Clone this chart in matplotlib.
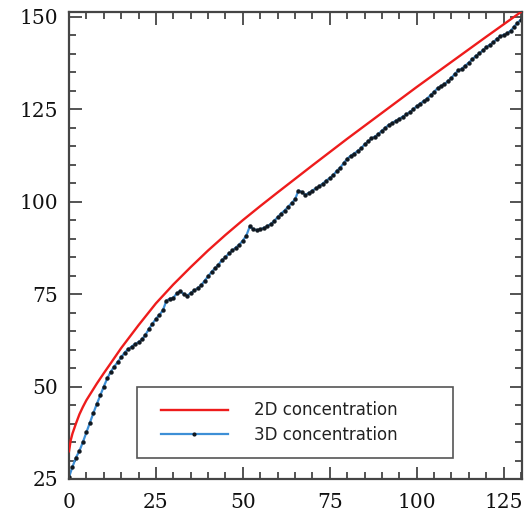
import matplotlib
matplotlib.use("Agg")
import matplotlib.pyplot as plt
from matplotlib.ticker import MultipleLocator
from matplotlib.patches import Rectangle
from matplotlib.lines import Line2D

# ---- data ----
x_2d = [0, 0.5, 1, 2, 3, 4, 5, 6, 8, 10, 12, 15, 20, 25, 30, 35, 40, 45, 50,
        55, 60, 70, 80, 90, 100, 110, 120, 130]
y_2d = [32.5, 35.5, 37.3, 40.0, 42.5, 44.5, 46.3, 47.8, 50.8, 53.6, 56.3, 60.4,
        66.6, 72.5, 77.6, 82.3, 86.8, 91.0, 95.0, 98.8, 102.5, 109.8, 117.0,
        124.0, 131.0, 137.8, 144.6, 151.3]

x_3d = list(range(0, 131))
y_3d = [25.5, 28.3, 30.8, 32.6, 35.0, 37.6, 40.2, 42.8, 45.3, 47.6,
        50.0, 52.2, 54.0, 55.4, 56.6, 57.9, 59.2, 60.1, 60.8, 61.5,
        62.0, 62.8, 64.0, 65.6, 67.0, 68.3, 69.4, 70.6, 73.2, 73.8,
        74.0, 75.2, 75.8, 75.0, 74.6, 75.3, 76.0, 76.6, 77.4, 78.6,
        79.8, 81.0, 82.0, 83.0, 84.2, 85.0, 86.0, 86.8, 87.6, 88.4,
        89.5, 90.8, 93.3, 92.6, 92.3, 92.5, 92.9, 93.4, 93.9, 94.8,
        95.8, 96.8, 97.6, 98.6, 99.6, 100.6, 103.0, 102.6, 101.8, 102.4,
        103.0, 103.6, 104.2, 104.9, 105.7, 106.4, 107.2, 108.3, 109.2, 110.4,
        111.6, 112.4, 113.0, 113.7, 114.4, 115.5, 116.3, 117.1, 117.6, 118.3,
        119.2, 120.0, 120.8, 121.3, 121.9, 122.4, 123.0, 123.6, 124.2, 125.0,
        125.8, 126.5, 127.2, 127.9, 128.8, 129.7, 130.7, 131.3, 131.8, 132.6,
        133.5, 134.6, 135.5, 136.0, 136.8, 137.6, 138.5, 139.4, 140.1, 140.9,
        141.8, 142.4, 143.1, 144.0, 144.7, 145.1, 145.5, 146.2, 147.3, 148.4,
        149.2]

labels = ["2D concentration", "3D concentration"]
x_ticks = [0, 25, 50, 75, 100, 125]
y_ticks = [25, 50, 75, 100, 125, 150]

red = "#ee1c1c"
blue = "#3d8fd6"
dot = "#101820"

# ---- figure ----
fig = plt.figure(figsize=(5.27, 5.17), dpi=100)
ax = fig.add_axes([69 / 527, 1 - 479 / 517, 453 / 527, 467 / 517])

ax.plot(x_2d, y_2d, color=red, lw=1.7, zorder=3)
ax.plot(x_3d, y_3d, color=blue, lw=1.6, marker="o", markersize=2.8,
        markerfacecolor=dot, markeredgecolor=dot, markeredgewidth=0.3,
        zorder=2)

ax.set_xlim(0, 130.3)
ax.set_ylim(25, 151.3)
ax.set_xticks(x_ticks)
ax.set_yticks(y_ticks)
ax.xaxis.set_minor_locator(MultipleLocator(5))
ax.yaxis.set_minor_locator(MultipleLocator(5))

spine_col = "#454545"
for s in ax.spines.values():
    s.set_color(spine_col)
    s.set_linewidth(1.6)

ax.tick_params(which="both", direction="in", top=True, right=True,
               color=spine_col, width=1.3)
ax.tick_params(which="major", length=9)
ax.tick_params(which="minor", length=5)
ax.tick_params(axis="x", which="major", pad=10)
ax.tick_params(axis="y", which="major", pad=8)
for lab in ax.get_xticklabels() + ax.get_yticklabels():
    lab.set_fontfamily("DejaVu Serif")
    lab.set_fontsize(14.5)
    lab.set_color("#111111")

# legend box drawn as a rectangle, legend itself frameless
ax.add_patch(Rectangle((0.150, 0.045), 0.698, 0.152, transform=ax.transAxes,
                       facecolor="white", edgecolor="#555555", lw=1.2,
                       zorder=4))
handles = [
    Line2D([], [], color=red, lw=1.7),
    Line2D([], [], color=blue, lw=1.6, marker="o", markersize=2.0,
           markerfacecolor=dot, markeredgecolor=dot),
]
leg = ax.legend(handles, labels, loc="upper left",
                bbox_to_anchor=(0.203, 0.166), numpoints=1,
                frameon=False, handlelength=4.0, handletextpad=1.56,
                borderpad=0, labelspacing=0.38, borderaxespad=0,
                prop={"family": "DejaVu Sans", "size": 12})
leg.set_zorder(5)
for t in leg.get_texts():
    t.set_color("#222222")

fig.savefig("out.png", dpi=100)
